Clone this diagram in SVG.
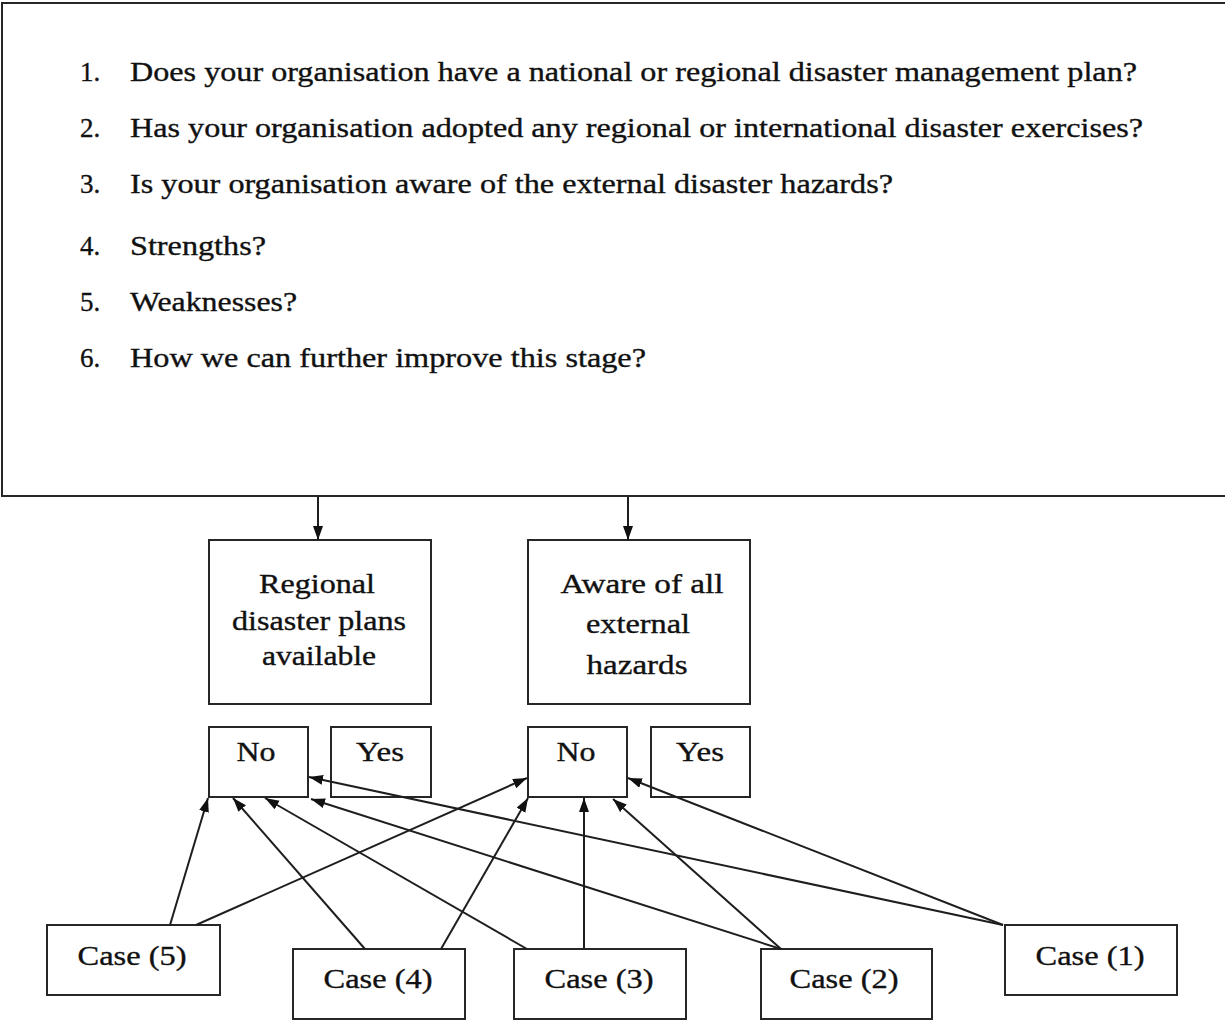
<svg xmlns="http://www.w3.org/2000/svg" width="1225" height="1025" viewBox="0 0 1225 1025">
  <style>
    .box { fill: #ffffff; stroke: #262626; stroke-width: 2; }
    .txt { font-family: "Liberation Serif", "Times New Roman", serif; font-size: 27px; fill: #111111; stroke: #111111; stroke-width: 0.35; }
    .mid { text-anchor: middle; }
    .edge { stroke: #1e1e1e; stroke-width: 2; fill: none; marker-end: url(#arrow); }
  </style>
  <defs>
    <marker id="arrow" markerUnits="userSpaceOnUse" markerWidth="15" markerHeight="11" refX="14" refY="5" orient="auto">
      <path d="M0,0 L14,5 L0,10 Z" fill="#111111"/>
    </marker>
  </defs>
  <rect width="1225" height="1025" fill="#ffffff"/>

  <!-- Question panel -->
  <g id="questions">
    <rect class="box" x="2" y="3" width="1240" height="493"/>
    <text class="txt" x="80" y="81">1.</text>
    <text class="txt" x="130" y="81" textLength="1007" lengthAdjust="spacingAndGlyphs">Does your organisation  have a national or regional disaster management plan?</text>
    <text class="txt" x="80" y="137">2.</text>
    <text class="txt" x="130" y="137" textLength="1013" lengthAdjust="spacingAndGlyphs">Has your organisation adopted any regional or international disaster exercises?</text>
    <text class="txt" x="80" y="193">3.</text>
    <text class="txt" x="130" y="193" textLength="763" lengthAdjust="spacingAndGlyphs">Is your organisation  aware of the external disaster hazards?</text>
    <text class="txt" x="80" y="255">4.</text>
    <text class="txt" x="130" y="255" textLength="136" lengthAdjust="spacingAndGlyphs">Strengths?</text>
    <text class="txt" x="80" y="311">5.</text>
    <text class="txt" x="130" y="311" textLength="167" lengthAdjust="spacingAndGlyphs">Weaknesses?</text>
    <text class="txt" x="80" y="367">6.</text>
    <text class="txt" x="130" y="367" textLength="516" lengthAdjust="spacingAndGlyphs">How we can further improve this stage?</text>
  </g>

  <!-- Criteria -->
  <g id="regional">
    <rect class="box" x="209" y="540" width="222" height="164"/>
    <text class="txt mid" x="317" y="593" textLength="116" lengthAdjust="spacingAndGlyphs">Regional</text>
    <text class="txt mid" x="319" y="630" textLength="174" lengthAdjust="spacingAndGlyphs">disaster plans</text>
    <text class="txt mid" x="319" y="665" textLength="114" lengthAdjust="spacingAndGlyphs">available</text>
  </g>
  <g id="aware">
    <rect class="box" x="528" y="540" width="222" height="164"/>
    <text class="txt mid" x="642" y="593" textLength="163" lengthAdjust="spacingAndGlyphs">Aware of all</text>
    <text class="txt mid" x="638" y="633" textLength="104" lengthAdjust="spacingAndGlyphs">external</text>
    <text class="txt mid" x="637" y="674" textLength="101" lengthAdjust="spacingAndGlyphs">hazards</text>
  </g>

  <!-- Answers -->
  <g id="no-regional">
    <rect class="box" x="209" y="727" width="99" height="70"/>
    <text class="txt mid" x="256" y="761" textLength="39" lengthAdjust="spacingAndGlyphs">No</text>
  </g>
  <g id="yes-regional">
    <rect class="box" x="331" y="727" width="100" height="70"/>
    <text class="txt mid" x="380" y="761" textLength="48" lengthAdjust="spacingAndGlyphs">Yes</text>
  </g>
  <g id="no-aware">
    <rect class="box" x="528" y="727" width="99" height="70"/>
    <text class="txt mid" x="576" y="761" textLength="39" lengthAdjust="spacingAndGlyphs">No</text>
  </g>
  <g id="yes-aware">
    <rect class="box" x="651" y="727" width="99" height="70"/>
    <text class="txt mid" x="700" y="761" textLength="48" lengthAdjust="spacingAndGlyphs">Yes</text>
  </g>

  <!-- Cases -->
  <g id="case5">
    <rect class="box" x="47" y="925" width="173" height="70"/>
    <text class="txt mid" x="132" y="965" textLength="109" lengthAdjust="spacingAndGlyphs">Case (5)</text>
  </g>
  <g id="case4">
    <rect class="box" x="293" y="949" width="172" height="70"/>
    <text class="txt mid" x="378" y="988" textLength="109" lengthAdjust="spacingAndGlyphs">Case (4)</text>
  </g>
  <g id="case3">
    <rect class="box" x="514" y="949" width="172" height="70"/>
    <text class="txt mid" x="599" y="988" textLength="109" lengthAdjust="spacingAndGlyphs">Case (3)</text>
  </g>
  <g id="case2">
    <rect class="box" x="761" y="949" width="171" height="70"/>
    <text class="txt mid" x="844" y="988" textLength="109" lengthAdjust="spacingAndGlyphs">Case (2)</text>
  </g>
  <g id="case1">
    <rect class="box" x="1005" y="925" width="172" height="70"/>
    <text class="txt mid" x="1090" y="965" textLength="109" lengthAdjust="spacingAndGlyphs">Case (1)</text>
  </g>

  <!-- Connectors -->
  <g id="connectors">
    <line class="edge" x1="318" y1="497" x2="318" y2="540"/>
    <line class="edge" x1="628" y1="497" x2="628" y2="540"/>
    <line class="edge" x1="170" y1="925" x2="208" y2="798"/>
    <line class="edge" x1="196" y1="925" x2="527" y2="778"/>
    <line class="edge" x1="365" y1="949" x2="233" y2="798"/>
    <line class="edge" x1="441" y1="949" x2="528" y2="798"/>
    <line class="edge" x1="527" y1="949" x2="265" y2="798"/>
    <line class="edge" x1="584" y1="949" x2="584" y2="798"/>
    <line class="edge" x1="781" y1="949" x2="311" y2="799"/>
    <line class="edge" x1="781" y1="949" x2="613" y2="799"/>
    <line class="edge" x1="1003" y1="925" x2="309" y2="777"/>
    <line class="edge" x1="1003" y1="925" x2="628" y2="778"/>
  </g>
</svg>
